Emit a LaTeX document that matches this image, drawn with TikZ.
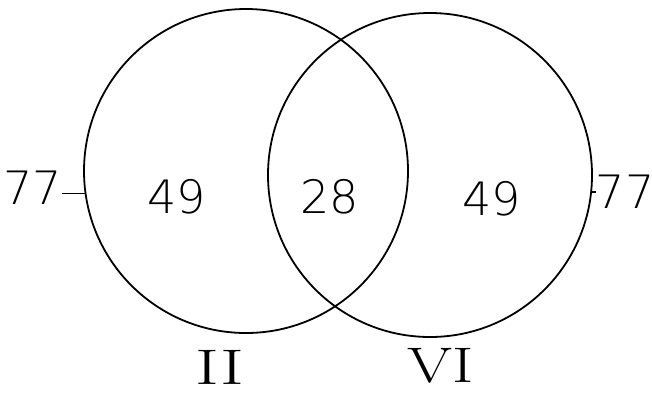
\documentclass[tikz,border=0pt]{standalone}
\usepackage{fontspec}
\usetikzlibrary{positioning}
\newfontfamily\countfont{DejaVu Sans ExtraLight}

\begin{document}
\begin{tikzpicture}[
  x=0.5pt,
  y=-0.5pt,
  every node/.style={inner sep=0pt, outer sep=0pt},
  setring/.style={draw, circle, line width=0.9pt, minimum size=162pt},
  count/.style={font=\countfont\fontsize{23}{25}\selectfont},
  setname/.style={font=\rmfamily\fontsize{25}{27}\selectfont},
  tick/.style={line width=0.9pt}
]
  \useasboundingbox (0,0) rectangle (652,392);

  %% ---- the two sets -----------------------------------------------------
  \node[setring] (setII) at (246,171) {};
  \node[setring] (setVI) at (430,175) {};

  %% ---- counts inside ----------------------------------------------------
  \node[count] (onlyII) at (177,197) {49};
  \node[count] (both)   at (330,197) {28};
  \node[count] (onlyVI) at (492,199) {49};

  %% ---- totals, with ticks to the rings ----------------------------------
  \node[count] (totII) at (33,188) {77};
  \node[count] (totVI) at (625,192) {77};
  \draw[tick] (setII.188) -- (setII.188 -| totII.east);
  \draw[tick] (setVI.-6) -- (setVI.-6 -| totVI.west);

  %% ---- names under the rings --------------------------------------------
  \node[setname] (nameII) at (220,367) {\scalebox{1.45}[1]{II}};
  \node[setname] (nameVI) at (441,366) {\scalebox{1.3}[1]{VI}};
\end{tikzpicture}
\end{document}
